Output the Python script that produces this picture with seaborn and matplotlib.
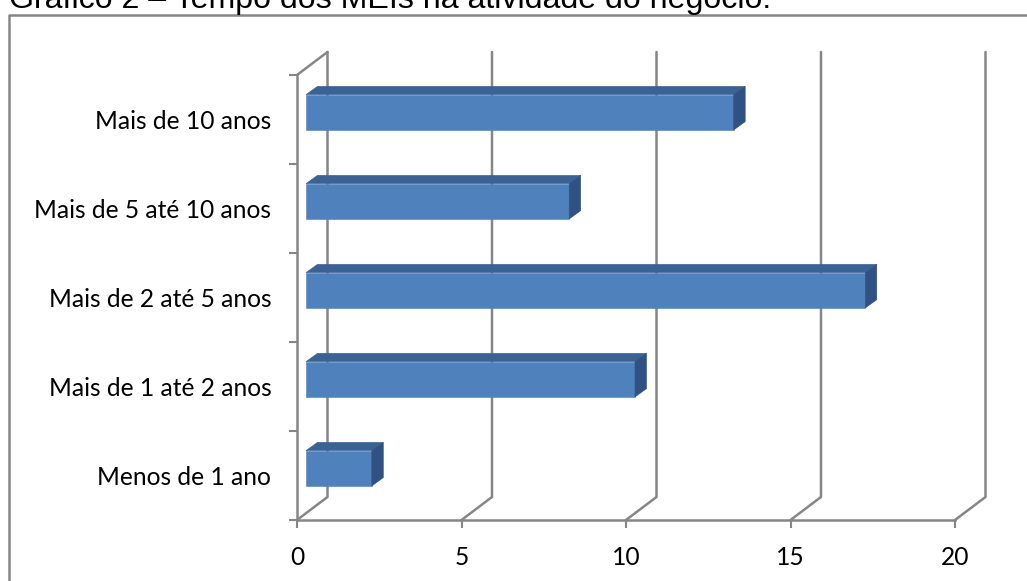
import numpy as np
import pandas as pd
import seaborn as sns
import matplotlib
matplotlib.use("Agg")
import matplotlib.pyplot as plt
from matplotlib.lines import Line2D
from matplotlib.patches import Polygon
from matplotlib.transforms import IdentityTransform

categories = ["Mais de 10 anos", "Mais de 5 até 10 anos", "Mais de 2 até 5 anos",
              "Mais de 1 até 2 anos", "Menos de 1 ano"]
values = [13, 8, 17, 10, 2]
x_ticks = [0, 5, 10, 15, 20]
title = "Gráfico 2 – Tempo dos MEIs na atividade do negócio."

W, H = 1027, 581
GREY = "#868686"
FACE, TOP, SIDE = "#4F81BD", "#3B6295", "#2F5282"

sns.set_theme(style="white")
plt.rcParams["font.family"] = ["Lato", "DejaVu Sans"]

fig = plt.figure(figsize=(W / 100, H / 100), dpi=100)
ax = fig.add_axes([297 / W, 1 - 520 / H, (955 - 297) / W, (520 - 75) / H])
ax.patch.set_alpha(0)

df = pd.DataFrame({"cat": categories, "val": values})
sns.barplot(data=df, y="cat", x="val", order=categories, orient="h", width=0.397,
            color=FACE, saturation=1, ax=ax, zorder=3)
ax.set_xlim(0, 20)
ax.set_ylim(4.5, -0.5)
ax.set_xticks(x_ticks)
ax.set_xlabel("")
ax.set_ylabel("")
ax.tick_params(axis="both", length=5.5, width=1.5, color=GREY, bottom=True, left=True,
               labelsize=17.7, labelcolor="black")
ax.tick_params(axis="x", pad=13)
ax.tick_params(axis="y", pad=18.5)
# category ticks sit on the band edges, not the centres
ax.set_yticks(np.arange(-0.5, 5), minor=True)
ax.tick_params(axis="y", which="major", length=0)
ax.tick_params(axis="y", which="minor", length=5.5, width=1.5, color=GREY, left=True)
sns.despine(ax=ax)
for s in ["left", "bottom"]:
    ax.spines[s].set_color(GREY)
    ax.spines[s].set_linewidth(1.8)

fig.canvas.draw()


def px(x, y, dx=0, dy=0):
    a, b = ax.transData.transform((x, y))
    return a + dx, b + dy


# back wall
wall_dx, wall_dy = 30.5, 23
for t in x_ticks:
    p0 = px(t, 4.5)
    p1 = px(t, 4.5, wall_dx, wall_dy)
    p2 = px(t, -0.5, wall_dx, wall_dy)
    ax.add_line(Line2D([p0[0], p1[0], p2[0]], [p0[1], p1[1], p2[1]], color=GREY, lw=1.8,
                       transform=IdentityTransform(), clip_on=False, zorder=1))
p0 = px(0, -0.5)
p1 = px(0, -0.5, wall_dx, wall_dy)
ax.add_line(Line2D([p0[0], p1[0]], [p0[1], p1[1]], color=GREY, lw=1.8,
                   transform=IdentityTransform(), clip_on=False, zorder=1))

# 3d bars: front face moved by the floor offset, then top and side faces
bar_dx, bar_dy = 9, 7.2
depth_x, depth_y = 11.5, 8.3
for bar in list(ax.patches):
    x0, y0 = bar.get_x(), bar.get_y()
    x1, y1 = x0 + bar.get_width(), y0 + bar.get_height()
    (ax0, ay0) = px(x0, y1, bar_dx, bar_dy)  # lower left on screen
    (ax1, ay1) = px(x1, y0, bar_dx, bar_dy)  # upper right on screen
    bar.set_visible(False)
    faces = [
        ([(ax0, ay0), (ax1, ay0), (ax1, ay1), (ax0, ay1)], FACE),
        ([(ax0, ay1), (ax1, ay1), (ax1 + depth_x, ay1 + depth_y), (ax0 + depth_x, ay1 + depth_y)], TOP),
        ([(ax1, ay0), (ax1, ay1), (ax1 + depth_x, ay1 + depth_y), (ax1 + depth_x, ay0 + depth_y)], SIDE),
    ]
    for pts, col in faces:
        ax.add_patch(Polygon(pts, closed=True, facecolor=col, edgecolor=col, lw=0.4,
                             transform=IdentityTransform(), clip_on=False, zorder=3))

# outer frame runs off the right and bottom of the picture
fig.add_artist(Line2D([9 / W, 9 / W, 1], [0, 1 - 15 / H, 1 - 15 / H], color=GREY, lw=1.8))

fig.text(9 / W, 1 - 8 / H, title, fontsize=23.1, family="Liberation Sans", color="black",
         ha="left", va="baseline")

fig.savefig("out.png", dpi=100)
